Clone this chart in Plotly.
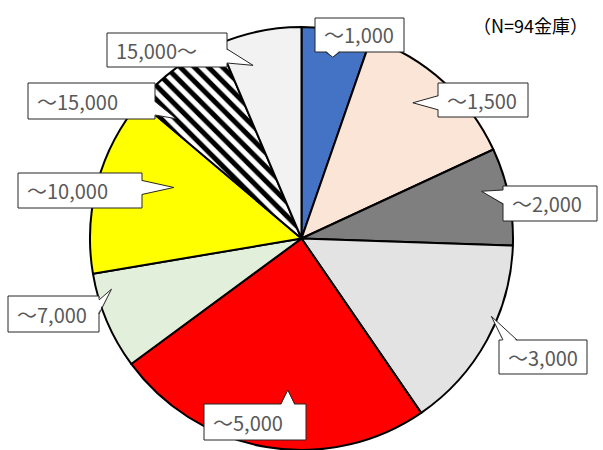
import math
import plotly.graph_objects as go

W, H = 603, 450

# ---- data ----
labels = ["～1,000", "～1,500", "～2,000", "～3,000", "～5,000",
          "～7,000", "～10,000", "～15,000", "15,000～"]
values = [5, 12, 7, 14, 23, 7, 13, 7, 6]
colors = ["#4472C4", "#FBE5D6", "#7F7F7F", "#E3E3E3", "#FF0000",
          "#E2EFDA", "#FFFF00", "#FFFFFF", "#F2F2F2"]
patterns = ["", "", "", "", "", "", "", "\\", ""]
note = "（N=94金庫）"

# ---- callout layout (pixels) ----
boxes = [(315, 18, 404, 52), (438, 83, 528, 117), (503, 186, 597, 221),
         (499, 340, 587, 374), (204, 404, 306, 440), (8, 296, 99, 332),
         (18, 173, 142, 208), (28, 83, 155, 119), (107, 33, 227, 67)]
# tip: (fraction across slice angle, fraction of radius)
tips = [(0.51, 0.87), (0.44, 0.83), (0.38, 0.88), (0.38, 0.97), (0.45, 0.72),
        (0.80, 0.93), (0.63, 0.65), (0.13, 0.82), (0.32, 0.85)]

top_px = 27
dom_top = 1 - top_px / H
R = (H - top_px) / 2.0
cx, cy = W / 2.0, top_px + R

fig = go.Figure(go.Pie(
    labels=labels, values=values, sort=False, direction="clockwise",
    rotation=0, textinfo="none", hoverinfo="label+value",
    marker=dict(colors=colors, line=dict(color="black", width=2),
                pattern=dict(shape=patterns, fgcolor="black", size=10,
                             solidity=0.5)),
    domain=dict(x=[0, 1], y=[0, dom_top]), showlegend=False))


def px(x, y):
    return x / W, 1 - y / H


total = sum(values)
cum = 0
shapes = []
annotations = []
for i, (lab, v) in enumerate(zip(labels, values)):
    a0 = cum / total * 360
    a1 = (cum + v) / total * 360
    cum += v
    fa, fr = tips[i]
    ang = math.radians(a0 + fa * (a1 - a0))
    tx = cx + fr * R * math.sin(ang)
    ty = cy - fr * R * math.cos(ang)
    x0, y0, x1, y1 = boxes[i]
    over = {"left": x0 - tx, "right": tx - x1, "top": y0 - ty, "bottom": ty - y1}
    side = max(over, key=over.get)
    bw = 14
    if side in ("left", "right"):
        ex = x0 if side == "left" else x1
        ins = 1.5 if side == "left" else -1.5
        c = min(max(ty, y0 + 4 + bw / 2), y1 - 4 - bw / 2)
        p1, p2 = (ex, c - bw / 2), (ex, c + bw / 2)
        q1, q2 = (ex + ins, c - bw / 2), (ex + ins, c + bw / 2)
    else:
        ey = y0 if side == "top" else y1
        ins = 1.5 if side == "top" else -1.5
        c = min(max(tx, x0 + 4 + bw / 2), x1 - 4 - bw / 2)
        p1, p2 = (c - bw / 2, ey), (c + bw / 2, ey)
        q1, q2 = (c - bw / 2, ey + ins), (c + bw / 2, ey + ins)
    bx0, by0 = px(x0, y0)
    bx1, by1 = px(x1, y1)
    shapes.append(dict(type="rect", xref="paper", yref="paper", x0=bx0, x1=bx1,
                       y0=by1, y1=by0, fillcolor="white",
                       line=dict(color="#262626", width=1), layer="above"))
    P = lambda p: "%f,%f" % px(*p)
    shapes.append(dict(type="path", xref="paper", yref="paper",
                       path="M%s L%s L%s Z" % (P(q1), P((tx, ty)), P(q2)),
                       fillcolor="white", line=dict(width=0), layer="above"))
    shapes.append(dict(type="path", xref="paper", yref="paper",
                       path="M%s L%s L%s" % (P(p1), P((tx, ty)), P(p2)),
                       fillcolor="rgba(0,0,0,0)",
                       line=dict(color="#262626", width=1), layer="above"))
    ax, ay = px(x0 + 7, (y0 + y1) / 2)
    annotations.append(dict(text=lab, x=ax, y=ay, xref="paper", yref="paper",
                            xanchor="left", yanchor="middle", showarrow=False,
                            font=dict(family="Noto Sans CJK JP", size=20,
                                      color="#595959")))

nx, ny = px(590, 25)
annotations.append(dict(text=note, x=nx, y=ny, xref="paper", yref="paper",
                        xanchor="right", yanchor="middle", showarrow=False,
                        font=dict(family="Noto Sans CJK JP", size=18,
                                  color="black")))

fig.update_layout(width=W, height=H, margin=dict(l=0, r=0, t=0, b=0),
                  paper_bgcolor="white", plot_bgcolor="white",
                  shapes=shapes, annotations=annotations)

fig.write_html("out.html")
